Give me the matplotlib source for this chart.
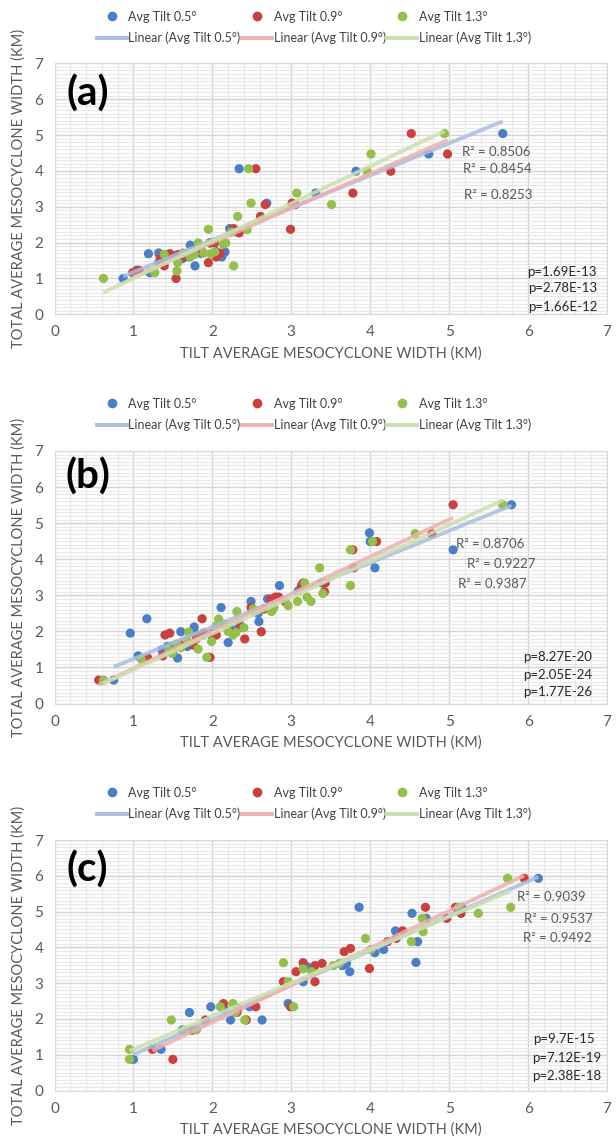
import matplotlib
matplotlib.use("Agg")
import matplotlib.pyplot as plt
import numpy as np
from matplotlib.lines import Line2D
from matplotlib.ticker import MultipleLocator

plt.rcParams['font.family'] = ['Lato', 'DejaVu Sans']

# ---------------- data ----------------
series_names = ["Avg Tilt 0.5°", "Avg Tilt 0.9°", "Avg Tilt 1.3°"]

# Panel (a)
a_x05 = [0.87, 1.04, 1.19, 1.32, 1.32, 1.21, 1.44, 1.72, 1.70, 1.78, 1.97, 2.12, 2.16, 2.22, 2.69,
         2.34, 3.05, 3.31, 3.82, 4.74, 5.68, 1.55, 1.85, 2.05, 2.30, 1.62]
a_y05 = [1.00, 1.23, 1.69, 1.71, 1.44, 1.16, 1.60, 1.93, 1.60, 1.35, 1.99, 1.60, 1.74, 2.39, 3.10,
         4.06, 3.06, 3.38, 3.99, 4.47, 5.04, 1.65, 1.70, 1.75, 2.30, 1.55]
a_x09 = [0.99, 1.07, 1.34, 1.39, 1.46, 1.54, 1.58, 1.74, 1.87, 1.95, 1.97, 2.03, 2.05, 2.27, 2.34,
         2.55, 2.61, 2.67, 2.99, 3.01, 3.78, 4.26, 4.52, 4.98, 1.65, 2.10]
a_y09 = [1.16, 1.23, 1.57, 1.35, 1.69, 1.00, 1.67, 1.69, 1.74, 1.44, 1.99, 1.99, 1.60, 2.39, 2.27,
         4.06, 2.73, 3.06, 2.37, 3.10, 3.38, 3.99, 5.04, 4.47, 1.62, 1.70]
a_x13 = [0.62, 1.27, 1.39, 1.56, 1.55, 1.63, 1.72, 1.77, 1.82, 1.89, 1.95, 1.98, 2.03, 2.14, 2.17,
         2.27, 2.24, 2.32, 2.44, 2.46, 2.49, 3.07, 3.51, 3.96, 4.01, 4.94]
a_y13 = [1.00, 1.16, 1.67, 1.44, 1.21, 1.71, 1.60, 1.67, 1.99, 1.71, 2.37, 1.69, 1.74, 1.95, 1.99,
         1.35, 2.29, 2.73, 2.36, 4.06, 3.10, 3.38, 3.06, 3.99, 4.47, 5.04]

# Panel (b)
b_x05 = [0.75, 0.96, 1.17, 1.06, 1.36, 1.43, 1.56, 1.60, 1.68, 1.77, 1.78, 1.95, 2.00, 2.11, 2.20,
         2.34, 2.49, 2.58, 2.59, 2.70, 2.85, 3.09, 3.39, 3.99, 4.00, 4.06, 5.05, 5.79, 1.50, 2.25, 1.88]
b_y05 = [0.65, 1.95, 2.35, 1.32, 1.49, 1.58, 1.26, 1.99, 1.58, 2.12, 1.95, 1.28, 1.85, 2.66, 1.69,
         2.21, 2.83, 2.50, 2.27, 2.90, 3.27, 3.13, 3.34, 4.73, 4.49, 3.76, 4.26, 5.51, 1.60, 2.05, 1.90]
b_x09 = [0.56, 1.18, 1.37, 1.40, 1.46, 1.60, 1.76, 1.80, 1.87, 1.89, 1.97, 2.05, 2.20, 2.36, 2.41,
         2.49, 2.51, 2.62, 2.65, 2.74, 2.80, 2.84, 2.92, 3.13, 3.15, 3.42, 3.43, 3.78, 3.79, 4.08,
         4.78, 5.05, 1.50, 2.00]
b_y09 = [0.65, 1.27, 1.32, 1.90, 1.95, 1.65, 1.62, 1.80, 2.35, 1.95, 1.28, 1.90, 2.05, 2.12, 1.79,
         2.66, 2.59, 1.99, 2.62, 2.90, 2.95, 2.95, 2.83, 3.27, 3.34, 3.10, 3.34, 4.26, 3.76, 4.49,
         4.71, 5.51, 1.45, 1.95]
b_x13 = [0.62, 1.10, 1.45, 1.49, 1.55, 1.68, 1.70, 1.82, 1.93, 1.99, 2.08, 2.15, 2.20, 2.26, 2.30,
         2.31, 2.40, 2.52, 2.78, 2.75, 2.96, 3.08, 3.17, 3.20, 3.25, 3.36, 3.40, 3.75, 3.75, 4.03,
         4.57, 5.68, 1.60, 2.05]
b_y13 = [0.65, 1.22, 1.49, 1.39, 1.65, 1.76, 1.98, 1.51, 1.28, 1.72, 2.34, 2.20, 2.00, 1.90, 1.97,
         2.55, 2.10, 2.62, 2.65, 2.55, 2.71, 2.83, 3.34, 2.95, 2.83, 3.76, 3.05, 4.26, 3.27, 4.49,
         4.71, 5.51, 1.55, 2.15]

# Panel (c)
c_x05 = [1.00, 1.35, 1.62, 1.71, 1.98, 2.16, 2.23, 2.47, 2.63, 2.96, 3.15, 3.20, 3.65, 3.70, 3.74,
         3.86, 4.06, 4.17, 4.32, 4.53, 4.58, 4.60, 4.71, 5.16, 6.13]
c_y05 = [0.87, 1.15, 1.69, 2.18, 2.34, 2.26, 1.97, 2.34, 1.97, 2.43, 3.04, 3.46, 3.49, 3.55, 3.32,
         5.12, 3.85, 3.94, 4.46, 4.95, 3.58, 4.16, 4.81, 5.12, 5.93]
c_x09 = [1.24, 1.50, 1.74, 1.91, 2.14, 2.31, 2.33, 2.43, 2.55, 2.90, 2.99, 3.06, 3.15, 3.30, 3.39,
         3.30, 3.67, 3.75, 3.99, 4.22, 4.33, 4.41, 4.70, 4.97, 5.08, 5.15, 5.95]
c_y09 = [1.15, 0.87, 1.68, 1.97, 2.43, 2.18, 2.30, 1.97, 2.34, 3.04, 2.34, 3.32, 3.57, 3.49, 3.55,
         3.04, 3.88, 3.97, 3.41, 4.16, 4.25, 4.46, 5.12, 4.81, 5.12, 4.95, 5.93]
c_x13 = [0.95, 0.95, 1.48, 1.65, 1.80, 2.10, 2.26, 2.29, 2.41, 2.90, 2.96, 3.03, 3.15, 3.26, 3.53,
         3.61, 3.94, 4.01, 4.52, 4.66, 4.67, 5.12, 5.37, 5.78, 5.74]
c_y13 = [1.15, 0.87, 1.97, 1.69, 1.70, 2.34, 2.43, 2.18, 1.97, 3.57, 3.04, 2.34, 3.40, 3.32, 3.49,
         3.55, 4.25, 3.94, 4.16, 4.81, 4.44, 5.12, 4.95, 5.12, 5.93]

a_r2 = ["R² = 0.8506", "R² = 0.8454", "R² = 0.8253"]
a_p = ["p=1.69E-13", "p=2.78E-13", "p=1.66E-12"]
b_r2 = ["R² = 0.8706", "R² = 0.9227", "R² = 0.9387"]
b_p = ["p=8.27E-20", "p=2.05E-24", "p=1.77E-26"]
c_r2 = ["R² = 0.9039", "R² = 0.9537", "R² = 0.9492"]
c_p = ["p=9.7E-15", "p=7.12E-19", "p=2.38E-18"]

# ---------------- style ----------------
dot_colors = ["#4A7EC7", "#C9403F", "#93BF4A"]
trend_colors = ["#A9BEDD", "#EDB1B0", "#CCE0AE"]
text_gray = "#595959"

W, H = 616, 1143
fig = plt.figure(figsize=(W / 100, H / 100), dpi=100)


def add_panel(top_px, bottom_px):
    left_px, right_px = 54.5, 607
    return fig.add_axes([left_px / W, 1 - bottom_px / H,
                         (right_px - left_px) / W, (bottom_px - top_px) / H])


def draw_panel(ax, xs, ys, letter, letter_y, r2_texts, r2_pos, p_texts, p_pos):
    for x, y, c in zip(xs, ys, dot_colors):
        ax.scatter(x, y, s=44, color=c, edgecolors='none', zorder=3)
    for x, y, c in zip(xs, ys, trend_colors):
        x = np.asarray(x)
        y = np.asarray(y)
        k, b = np.polyfit(x, y, 1)
        xx = np.array([x.min(), x.max()])
        ax.plot(xx, k * xx + b, color=c, lw=2.8, alpha=0.85, zorder=4,
                solid_capstyle='butt')

    ax.set_xlim(0, 7)
    ax.set_ylim(0, 7)
    ax.xaxis.set_major_locator(MultipleLocator(1))
    ax.yaxis.set_major_locator(MultipleLocator(1))
    ax.xaxis.set_minor_locator(MultipleLocator(0.2))
    ax.yaxis.set_minor_locator(MultipleLocator(0.1))
    ax.grid(which='major', color='#D2D2D2', lw=1.0, zorder=1)
    ax.grid(which='minor', color='#E8E8E8', lw=0.8, zorder=0)
    ax.set_axisbelow(True)
    ax.tick_params(which='both', length=0, labelsize=11, labelcolor=text_gray)
    ax.tick_params(axis='x', pad=8)
    ax.tick_params(axis='y', pad=8)
    for s in ax.spines.values():
        s.set_color('#D9D9D9')
        s.set_linewidth(0.8)

    ax.set_xlabel("TILT AVERAGE MESOCYCLONE WIDTH (KM)", fontsize=10.5,
                  color=text_gray, labelpad=5)
    ax.set_ylabel("TOTAL AVERAGE MESOCYCLONE WIDTH (KM)", fontsize=10.5,
                  color=text_gray, labelpad=6)

    ax.text(0.06, letter_y, letter, transform=ax.transAxes, fontsize=29,
            fontweight='bold', color='black', ha='center', va='center', zorder=6)

    for t, (x, y) in zip(r2_texts, r2_pos):
        ax.text(x, y, t, fontsize=9.5, color=text_gray, ha='left', va='center', zorder=6)
    for t, (x, y) in zip(p_texts, p_pos):
        ax.text(x, y, t, fontsize=9.5, color='#262626', ha='left', va='center', zorder=6)


def add_legend(center_y_px):
    handles = []
    labels = []
    for i, name in enumerate(series_names):
        handles.append(Line2D([], [], ls='none', marker='o', ms=7,
                              mfc=dot_colors[i], mec='none'))
        labels.append(name)
        handles.append(Line2D([], [], color=trend_colors[i], lw=2.8))
        labels.append("Linear (" + name + ")")
    fig.legend(handles, labels, ncol=3, loc='center',
               bbox_to_anchor=(314 / W, 1 - center_y_px / H),
               frameon=False, fontsize=9, labelcolor='#404040',
               handlelength=2.4, handletextpad=0.15, columnspacing=0.1,
               labelspacing=0.72, borderpad=0)


ax_a = add_panel(63.3, 314.3)
draw_panel(ax_a, [a_x05, a_x09, a_x13], [a_y05, a_y09, a_y13], "(a)", 0.88,
           a_r2, [(5.16, 4.54), (5.18, 4.04), (5.19, 3.34)],
           a_p, [(5.99, 1.18), (6.0, 0.73), (6.0, 0.21)])
add_legend(27.5)

ax_b = add_panel(451, 703.5)
draw_panel(ax_b, [b_x05, b_x09, b_x13], [b_y05, b_y09, b_y13], "(b)", 0.90,
           b_r2, [(5.09, 4.43), (5.22, 3.88), (5.11, 3.32)],
           b_p, [(5.94, 1.29), (5.94, 0.79), (5.94, 0.33)])
add_legend(414.5)

ax_c = add_panel(840, 1090.5)
draw_panel(ax_c, [c_x05, c_x09, c_x13], [c_y05, c_y09, c_y13], "(c)", 0.88,
           c_r2, [(5.86, 5.40), (5.95, 4.79), (5.93, 4.27)],
           c_p, [(6.06, 1.44), (6.05, 0.91), (6.05, 0.41)])
add_legend(803.5)

fig.savefig("out.png", dpi=100)
